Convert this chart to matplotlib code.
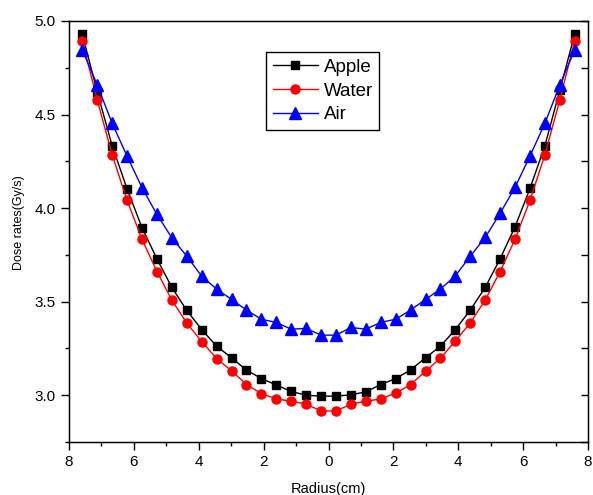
"""Dose rate vs radius for apple, water and air."""

import matplotlib.pyplot as plt
from matplotlib.ticker import FuncFormatter, MultipleLocator

plt.rcParams["font.family"] = ["Liberation Sans", "DejaVu Sans"]

RADIUS = [
    -7.59, -7.13, -6.67, -6.21, -5.75, -5.29, -4.83, -4.37, -3.91, -3.45,
    -2.99, -2.53, -2.07, -1.61, -1.15, -0.69, -0.23,
    0.23, 0.69, 1.15, 1.61, 2.07, 2.53, 2.99, 3.45, 3.91,
    4.37, 4.83, 5.29, 5.75, 6.21, 6.67, 7.13, 7.59,
]

APPLE = [
    4.93, 4.62, 4.333, 4.103, 3.895, 3.729, 3.576, 3.453, 3.351, 3.262,
    3.200, 3.134, 3.089, 3.055, 3.020, 3.000, 2.995,
    2.995, 3.002, 3.018, 3.057, 3.089, 3.135, 3.200, 3.262, 3.351,
    3.455, 3.576, 3.729, 3.900, 4.105, 4.333, 4.63, 4.93,
]

WATER = [
    4.893, 4.578, 4.285, 4.041, 3.833, 3.661, 3.508, 3.385, 3.287, 3.196,
    3.130, 3.057, 3.009, 2.980, 2.968, 2.952, 2.916,
    2.916, 2.952, 2.968, 2.980, 3.011, 3.057, 3.128, 3.198, 3.289,
    3.387, 3.508, 3.661, 3.833, 4.041, 4.285, 4.578, 4.895,
]

AIR = [
    4.845, 4.658, 4.453, 4.278, 4.109, 3.966, 3.841, 3.743, 3.636, 3.567,
    3.512, 3.455, 3.406, 3.389, 3.353, 3.357, 3.321,
    3.321, 3.362, 3.353, 3.389, 3.406, 3.455, 3.512, 3.567, 3.638,
    3.743, 3.843, 3.972, 4.111, 4.278, 4.453, 4.658, 4.845,
]

fig = plt.figure(figsize=(5.93, 4.95), dpi=100)
ax = fig.add_axes([0.1164, 0.1071, 0.8752, 0.8505])

ax.plot(RADIUS, APPLE, color="black", linewidth=1.0, marker="s",
        markersize=6, label="Apple")
ax.plot(RADIUS, WATER, color="red", linewidth=1.0, marker="o",
        markersize=6.5, label="Water")
ax.plot(RADIUS, AIR, color="blue", linewidth=1.0, marker="^",
        markersize=8, label="Air")

ax.set_xlim(-8, 8)
ax.set_ylim(2.75, 5.0)
ax.xaxis.set_major_locator(MultipleLocator(2))
ax.xaxis.set_minor_locator(MultipleLocator(1))
ax.yaxis.set_major_locator(MultipleLocator(0.5))
ax.yaxis.set_minor_locator(MultipleLocator(0.25))
ax.xaxis.set_major_formatter(FuncFormatter(lambda v, _: f"{abs(v):.0f}"))
ax.yaxis.set_major_formatter(FuncFormatter(lambda v, _: f"{v:.1f}"))
ax.tick_params(which="major", direction="out", length=6, width=1,
               labelsize=11)
ax.tick_params(which="minor", direction="out", length=3, width=1)
ax.tick_params(top=False, right=False, which="both")
for spine in ax.spines.values():
    spine.set_linewidth(1.0)

# right-hand ticks point inward, no labels
ax_r = ax.twinx()
ax_r.set_ylim(ax.get_ylim())
ax_r.yaxis.set_major_locator(MultipleLocator(0.5))
ax_r.yaxis.set_minor_locator(MultipleLocator(0.25))
ax_r.tick_params(which="both", direction="in", length=5, width=1,
                 labelright=False)

ax.set_xlabel("Radius(cm)", fontsize=10.5)
ax.xaxis.set_label_coords(0.5, -0.094)
ax.set_ylabel("Dose rates(Gy/s)", fontsize=9)
ax.yaxis.set_label_coords(-0.085, 0.52)

ax.legend(loc="upper left", bbox_to_anchor=(0.3796, 0.926),
          borderaxespad=0, fontsize=13.5, frameon=True, fancybox=False,
          edgecolor="black", framealpha=1, handlelength=2.4,
          handletextpad=0.32, labelspacing=0.35, borderpad=0.35)
ax.get_legend().get_frame().set_linewidth(1.0)

fig.savefig("out.png", dpi=100, facecolor="white")
